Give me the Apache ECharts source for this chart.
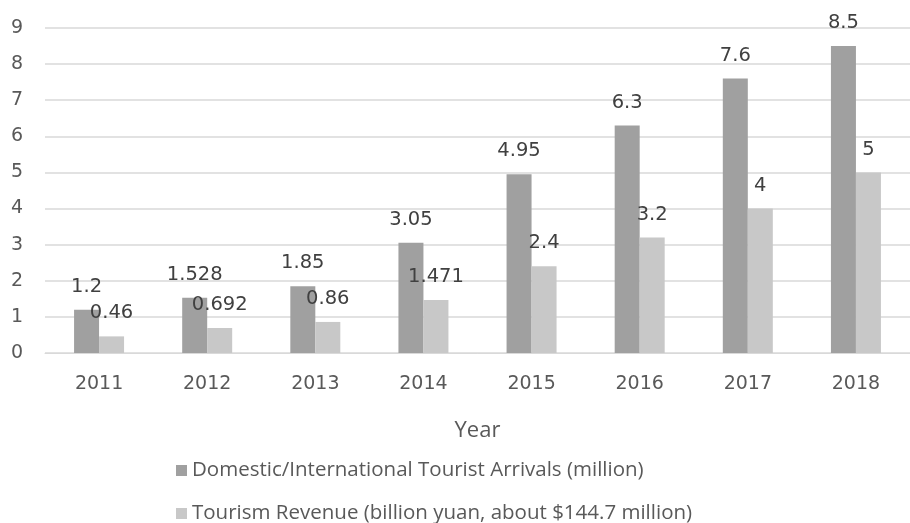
<!DOCTYPE html>
<html>
<head>
<meta charset="utf-8">
<script src="https://cdn.jsdelivr.net/npm/echarts@6/dist/echarts.min.js"></script>
<style>
html,body{margin:0;padding:0;background:#fff;}
#chart{width:910px;height:523px;}
</style>
</head>
<body>
<div id="chart"></div>
<script>
var years=["2011","2012","2013","2014","2015","2016","2017","2018"];
var arrivals=[1.2,1.528,1.85,3.05,4.95,6.3,7.6,8.5];
var revenue=[0.46,0.692,0.86,1.471,2.4,3.2,4,5];
var seriesNames=["Domestic/International Tourist Arrivals (million)","Tourism Revenue (billion yuan, about $144.7 million)"];

var sFont="'Open Sans', 'Noto Sans', sans-serif";
var sNumFont="'DejaVu Sans', sans-serif";
var oChart=echarts.init(document.getElementById("chart"));

function barSeries(sName,aData,sColor){
    return {
        name:sName,
        type:"bar",
        data:aData,
        barWidth:25,
        barGap:"0%",
        itemStyle:{color:sColor},
        label:{
            show:true,
            position:"top",
            distance:13,
            color:"#404040",
            fontSize:19.5,
            fontFamily:sNumFont
        }
    };
}

var option={
    animation:false,
    textStyle:{fontFamily:sFont},
    grid:{left:45,right:-7,top:28,bottom:170,containLabel:false},
    legend:{
        orient:"vertical",
        left:171,
        top:455,
        height:90,
        itemWidth:11,
        itemHeight:11,
        itemGap:22,
        icon:"rect",
        textStyle:{color:"#595959",fontSize:20.5,fontFamily:sFont},
        data:seriesNames
    },
    xAxis:{
        type:"category",
        data:years,
        name:"Year",
        nameLocation:"middle",
        nameGap:67,
        nameTextStyle:{color:"#595959",fontSize:22,fontFamily:sFont},
        axisLine:{lineStyle:{color:"#d9d9d9"}},
        axisTick:{show:false},
        axisLabel:{color:"#595959",fontSize:19,margin:22,fontFamily:sNumFont}
    },
    yAxis:{
        type:"value",
        min:0,
        max:9,
        interval:1,
        axisLine:{show:false},
        axisTick:{show:false},
        splitLine:{lineStyle:{color:"#d9d9d9",width:1.5}},
        axisLabel:{color:"#595959",fontSize:19,margin:22,fontFamily:sNumFont}
    },
    series:[
        barSeries(seriesNames[0],arrivals,"#a0a0a0"),
        barSeries(seriesNames[1],revenue,"#c8c8c8")
    ]
};
oChart.setOption(option);
</script>
</body>
</html>
